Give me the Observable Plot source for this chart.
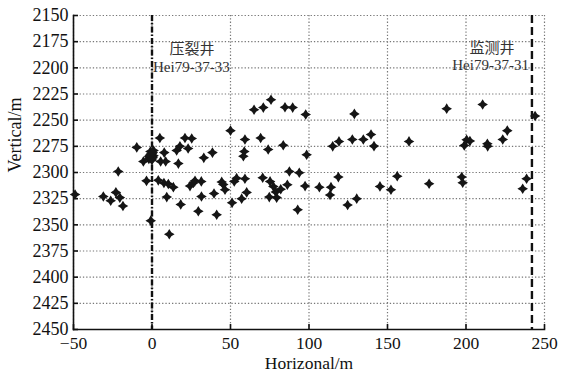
<!DOCTYPE html>
<html><head><meta charset="utf-8">
<script src="https://cdn.jsdelivr.net/npm/d3@7"></script>
<script src="https://cdn.jsdelivr.net/npm/@observablehq/plot@0.6"></script>
<style>body{margin:0;background:#fff}</style>
</head><body><div id="chart"></div>
<script>
const xTicks = [-50, 0, 50, 100, 150, 200, 250];
const yTicks = [2150, 2175, 2200, 2225, 2250, 2275, 2300, 2325, 2350, 2375, 2400, 2425, 2450];
const xLabel = "Horizonal/m";
const yLabel = "Vertical/m";
const wellX = [0, 242];
const wellNames = ["压裂井", "监测井"];
const wellIds = ["Hei79-37-33", "Hei79-37-31"];
const wellNameX = [25.5, 216.5];
const wellNameY = [2182, 2181];
const wellIdY = [2199, 2197];

// microseismic events [horizontal m, vertical m]
const events = [
  [-49, 2321], [-31, 2323], [-26.3, 2327], [-23, 2319], [-20.5, 2324], [-18.5, 2332], [-21.5, 2299],
  [-9.7, 2276], [-5.5, 2289.5],
  [-2, 2285], [0, 2282], [-1, 2280], [1, 2284], [-2, 2287], [0, 2288], [-1, 2283], [1, 2279],
  [-1, 2285], [0, 2285], [-0.5, 2282], [0.5, 2286], [-1.5, 2284], [-0.5, 2287], [0.5, 2281],
  [5, 2267], [7.8, 2281], [5.5, 2289.5], [8.7, 2289.5], [15.7, 2279], [17.8, 2275], [16.8, 2291.5],
  [21, 2267], [25.3, 2267.5], [23, 2277],
  [-3.5, 2308], [4, 2307.5], [7.6, 2310], [10.4, 2311], [13.6, 2314], [9.4, 2323.5], [18.3, 2330.5],
  [-0.8, 2346], [11, 2359],
  [24.2, 2313], [26.3, 2310], [27.4, 2308], [31.4, 2308.5], [31.5, 2323], [29.5, 2337],
  [33, 2286], [38.5, 2281], [39.5, 2320], [41.2, 2340.4], [44.4, 2309], [45.4, 2311.5], [46.5, 2316.5],
  [50, 2260], [51, 2329], [52.4, 2308.5], [53.9, 2305.4], [57.1, 2325], [59.2, 2306], [60.3, 2319],
  [59.2, 2268.5], [58.8, 2280], [58.2, 2284.5],
  [65, 2240], [70.9, 2238], [75.8, 2230.5], [84.7, 2237.6], [89.6, 2238], [97.9, 2244.6],
  [69.2, 2267], [74, 2278], [83.6, 2274], [98.5, 2283],
  [70.5, 2305], [75.2, 2308.5], [77.3, 2313.3], [82, 2316], [86.2, 2311.7], [78.8, 2318.7], [79.4, 2324],
  [74.7, 2323.5], [87.5, 2299], [93.8, 2300.3], [92.8, 2335.6], [97.5, 2313],
  [106.6, 2314], [114, 2314], [113.4, 2321.5], [118.7, 2304.4], [124.6, 2331], [130.4, 2325],
  [115.1, 2275], [119.1, 2270.3], [127.6, 2268.4], [134.6, 2268.4], [139.5, 2263.7], [141.4, 2274.8],
  [128.9, 2244], [163.7, 2270.3], [145.2, 2313.3], [152.2, 2316.5], [156.2, 2303.5], [176.5, 2310.7],
  [187.7, 2239], [210.6, 2235], [244, 2246], [226.3, 2260], [223.4, 2268.4],
  [200.4, 2268.7], [202.5, 2270], [198.9, 2274.2], [213.6, 2272.6], [213.8, 2275],
  [197.3, 2304.4], [197.9, 2309.8], [238.6, 2306], [236.1, 2315.5]
];

const star4 = {
  draw(ctx, size) {
    const R = Math.sqrt(size / Math.PI), q = R * 0.38;
    ctx.moveTo(0, -R); ctx.lineTo(q, -q); ctx.lineTo(R, 0); ctx.lineTo(q, q);
    ctx.lineTo(0, R); ctx.lineTo(-q, q); ctx.lineTo(-R, 0); ctx.lineTo(-q, -q); ctx.closePath();
  }
};

const font = "'Liberation Serif', 'Times New Roman', serif";
const cjk = "'Liberation Serif', 'Noto Sans CJK SC', serif";

const chart = Plot.plot({
  width: 562, height: 372,
  marginTop: 15, marginBottom: 43, marginLeft: 73, marginRight: 18,
  style: {fontFamily: font, fontSize: "18px", color: "#111", background: "#fff"},
  x: {domain: [-50, 250]},
  y: {domain: [2150, 2450], reverse: true},
  marks: [
    Plot.gridX(xTicks, {stroke: "#777", strokeOpacity: 1, strokeWidth: 1.2, strokeDasharray: "1.3,2"}),
    Plot.gridY(yTicks, {stroke: "#777", strokeOpacity: 1, strokeWidth: 1.2, strokeDasharray: "1.3,2"}),
    Plot.ruleX([wellX[0]], {stroke: "#111", strokeWidth: 2.4, strokeDasharray: "6,2,1.5,2"}),
    Plot.ruleX([wellX[1]], {stroke: "#111", strokeWidth: 2.4, strokeDasharray: "8,4"}),
    Plot.frame({anchor: "left", stroke: "#111", strokeWidth: 1.6}),
    Plot.frame({anchor: "bottom", stroke: "#111", strokeWidth: 1.6}),
    Plot.axisX(xTicks, {tickSize: -5, tickPadding: 12, label: null, fontSize: 17.5, fontFamily: font, stroke: "#111", strokeWidth: 1.6}),
    Plot.axisY(yTicks, {tickSize: -5, tickPadding: 10, label: null, fontSize: 18, fontFamily: font, stroke: "#111", strokeWidth: 1.6, tickFormat: d => String(d)}),
    Plot.dot(events, {x: d => d[0], y: d => d[1], r: 5.3, symbol: star4, fill: "#151515", stroke: "none"}),
    Plot.text(wellNames, {x: (d, i) => wellNameX[i], y: (d, i) => wellNameY[i], text: d => d, fontSize: 15, fontFamily: cjk, fill: "#333", textAnchor: "middle"}),
    Plot.text([wellIds[0]], {x: [wellX[0]], y: [wellIdY[0]], text: d => d, fontSize: 15, fontFamily: font, fill: "#333", textAnchor: "start", dx: 1}),
    Plot.text([wellIds[1]], {x: [wellX[1]], y: [wellIdY[1]], text: d => d, fontSize: 15, fontFamily: font, fill: "#333", textAnchor: "end", dx: -3}),
    Plot.text([xLabel], {frameAnchor: "bottom", dy: 39, text: d => d, fontSize: 17.5, fontFamily: font, fill: "#111"}),
    Plot.text([yLabel], {frameAnchor: "left", dx: -58, rotate: -90, text: d => d, fontSize: 18, fontFamily: font, fill: "#111"})
  ]
});
document.getElementById("chart").appendChild(chart);
</script>
</body></html>
